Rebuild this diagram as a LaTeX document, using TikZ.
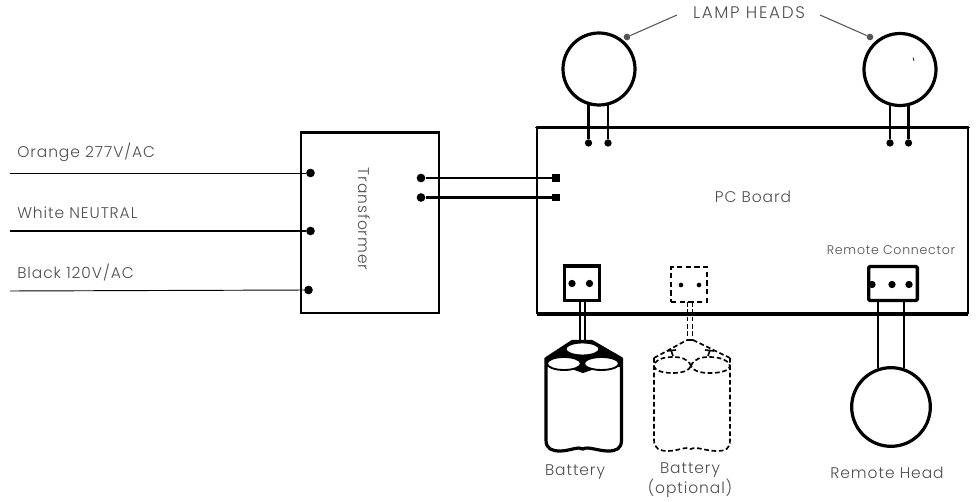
\documentclass[tikz,border=0pt]{standalone}
\usepackage{fontspec}
\setmainfont{Poppins Light}[LetterSpace=6]
\newfontfamily\lampfont{Poppins Light}[LetterSpace=10]
\tikzset{
  x=0.75pt,y=-0.75pt,
  lbl/.style={text=txtgray,font=\fontsize{11.6pt}{13.5pt}\selectfont,inner sep=0pt,align=center},
  pin/.style={circle,fill=black,inner sep=0pt,minimum size=6.5pt},
  smallpin/.style={circle,fill=black,inner sep=0pt,minimum size=5.5pt},
  head/.style={circle,draw=black,line width=2.4pt,fill=white,inner sep=0pt},
  leader/.style={draw=leadgray,line width=0.8pt},
  leaddot/.style={circle,fill=leadgray,inner sep=0pt,minimum size=5pt},
  dashedline/.style={line width=1.25pt,dash pattern=on 3.5pt off 2pt},
}
\definecolor{txtgray}{HTML}{4E4E4E}
\definecolor{leadgray}{HTML}{555555}
\begin{document}
\begin{tikzpicture}
\useasboundingbox (0,0) rectangle (976,502);
% PC board
\coordinate (pcTL) at (537,127.5);
\coordinate (pcTR) at (968,127.5);
\coordinate (pcBL) at (537,314);
\coordinate (pcBR) at (968,314);
\draw[line width=1.6pt] (pcBL) -- (pcTL);
\draw[line width=0.8pt] (pcTR) -- (pcBR);
\draw[line width=2.8pt,line cap=round] (pcTL) -- (pcTR);
\draw[line width=2.8pt] (pcBL) -- (pcBR);
% Transformer
\node[draw=black,line width=1.3pt,minimum width=103.5pt,minimum height=135pt,inner sep=0pt] (tr) at (370,223) {};
\draw[line width=1.9pt] (tr.north west) -- (tr.north east);
\node[lbl,rotate=-90] (trlabel) at (364,219) {Transformer};
% mains
\coordinate (inA) at (10,173);
\coordinate (inB) at (10,231);
\coordinate (inC) at (10,291);
\node[smallpin,minimum size=6.5pt] (tA) at (310.5,173) {};
\node[smallpin,minimum size=6.5pt] (tB) at (310.5,231) {};
\node[smallpin,minimum size=6.5pt] (tC) at (308.5,290) {};
\draw[line width=0.7pt] (inA) -- (tA);
\draw[line width=1.5pt] (inB) -- (tB);
\draw[line width=0.7pt] (inC) -- (tC);
\node[lbl,anchor=west] (lA) at (17,152) {Orange 277V/AC};
\node[lbl,anchor=west] (lB) at (17,213) {White NEUTRAL};
\node[lbl,anchor=west] (lC) at (17,273) {Black 120V/AC};
% transformer to board
\node[pin] (oA) at (421,178) {};
\node[pin] (oB) at (421,197.5) {};
\node[pin,rectangle,minimum size=5.5pt] (pA) at (556,178) {};
\node[pin,rectangle,minimum size=5.5pt] (pB) at (556,197.5) {};
\draw[line width=1pt] (oA) -- (pA);
\draw[line width=1.6pt] (oB) -- (pB);
% Lamp heads
\node[head,minimum size=54pt] (lampL) at (599,69) {};
\node[head,minimum size=54pt] (lampR) at (900,69.5) {};
\draw[line width=0.5pt] (913,57.5) -- (914,61);
\node[smallpin] (lL1) at (588.5,143) {};
\node[smallpin] (lL2) at (608,143) {};
\node[smallpin] (lR1) at (890,143) {};
\node[smallpin] (lR2) at (908.5,143) {};
\draw[line width=1.9pt] (lL1) -- (588.5,104);
\draw[line width=1.9pt] (lL2) -- (608,104);
\draw[line width=1.9pt] (lR1) -- (890,104);
\draw[line width=1.9pt] (lR2) -- (908.5,104);
\node[lbl,font=\fontsize{12.6pt}{14pt}\lampfont] (lamps) at (749,13) {LAMP HEADS};
\node[leaddot] (dL) at (627,37) {};
\node[leaddot] (dR) at (870,37) {};
\coordinate (aL) at (677,15);
\coordinate (aR) at (820,15);
\draw[leader] (aL) -- (dL);
\draw[leader] (aR) -- (dR);
\node[lbl] (pc) at (753,197) {PC Board};
% Battery connector
\node[draw=black,line width=2.5pt,minimum width=26pt,minimum height=26pt,inner sep=0pt] (bc) at (582,283.5) {};
\node[smallpin] (b1) at (572,283.5) {};
\node[smallpin] (b2) at (589.5,283.5) {};
\draw[line width=1.1pt] (580,302) -- (580,341);
\draw[line width=1.1pt] (585,302) -- (585,341);
% Battery
\draw[line width=2.4pt,line join=round,fill=white] (546,358) -- (546,440) .. controls (546,449) and (552,451) .. (560,451) .. controls (570,451) and (578,446) .. (583,449) .. controls (588,446) and (598,451) .. (608,451) .. controls (616,451) and (621.5,449) .. (621.5,440) -- (621.5,358);
\draw[line width=1.5pt,line join=round,fill=black] (546,358) -- (572,341) -- (592,341) -- (621.5,358) -- (621.5,366) -- (600,366) -- (583,372) -- (566,366) -- (546,366) -- cycle;
\draw[line width=1.4pt,fill=white] (582.5,349) ellipse (17 and 6.5);
\draw[line width=1.4pt,fill=white] (564,363.5) ellipse (17 and 6.5);
\draw[line width=1.4pt,fill=white] (601.5,363.5) ellipse (17.5 and 6.5);
\node[lbl] (blab) at (575,472) {Battery};
% Optional connector
\node[draw=black,line width=1.5pt,dash pattern=on 4pt off 2.5pt,minimum width=27pt,minimum height=26pt,inner sep=0pt] (oc) at (689,284.5) {};
\node[smallpin,minimum size=3.5pt] (o1) at (681,285) {};
\node[smallpin,minimum size=3.5pt] (o2) at (699,285) {};
\draw[dashedline] (687.5,302) -- (687.5,341);
\draw[dashedline] (692.5,302) -- (692.5,341);
\draw[dashedline] (687.5,340) -- (692.5,340);
% Optional battery
\draw[dashedline,line join=round] (654,358) -- (654,440) .. controls (654,449) and (660,451) .. (668,451) .. controls (678,451) and (686,446) .. (691,449) .. controls (696,446) and (706,451) .. (716,451) .. controls (726,451) and (730,449) .. (730,440) -- (730,358);
\draw[dashedline] (654,358) -- (687,340);
\draw[dashedline] (693,340) -- (730,358);
\draw[dashedline] (691,366) .. controls (688,358) and (680,357) .. (672,357) .. controls (660,357) and (654,362) .. (654,366) .. controls (654,370) and (662,373) .. (672,373) .. controls (682,373) and (689,371) .. (691,366);
\draw[dashedline] (691,366) .. controls (694,358) and (702,357) .. (710,357) .. controls (722,357) and (730,362) .. (730,366) .. controls (730,370) and (722,373) .. (710,373) .. controls (700,373) and (693,371) .. (691,366);
\draw[line width=1.2pt] (671,350) -- (673,356);
\draw[line width=1.2pt] (667,351) -- (676,350);
\draw[line width=1.2pt] (710,350) -- (708,356);
\draw[line width=1.2pt] (705,350) -- (714,351);
\node[lbl] (olab) at (690,480) {Battery\\(optional)};
% Remote
\node[draw=black,line width=2.5pt,minimum width=36.5pt,minimum height=25.5pt,inner sep=0pt,rounded corners=1pt] (rc) at (893,283.5) {};
\node[smallpin] (r1) at (872,284.5) {};
\node[smallpin] (r2) at (892,284.5) {};
\node[smallpin] (r3) at (909,284.5) {};
\node[head,minimum size=59pt] (rh) at (891,407) {};
\draw[line width=1.6pt] (877.7,301) -- (877.7,368);
\draw[line width=1.6pt] (904,301) -- (904,368);
\node[lbl,font=\fontsize{9.4pt}{11pt}\selectfont] (rclab) at (891,250.5) {Remote Connector};
\node[lbl] (rhlab) at (887,473) {Remote Head};
\end{tikzpicture}
\end{document}
